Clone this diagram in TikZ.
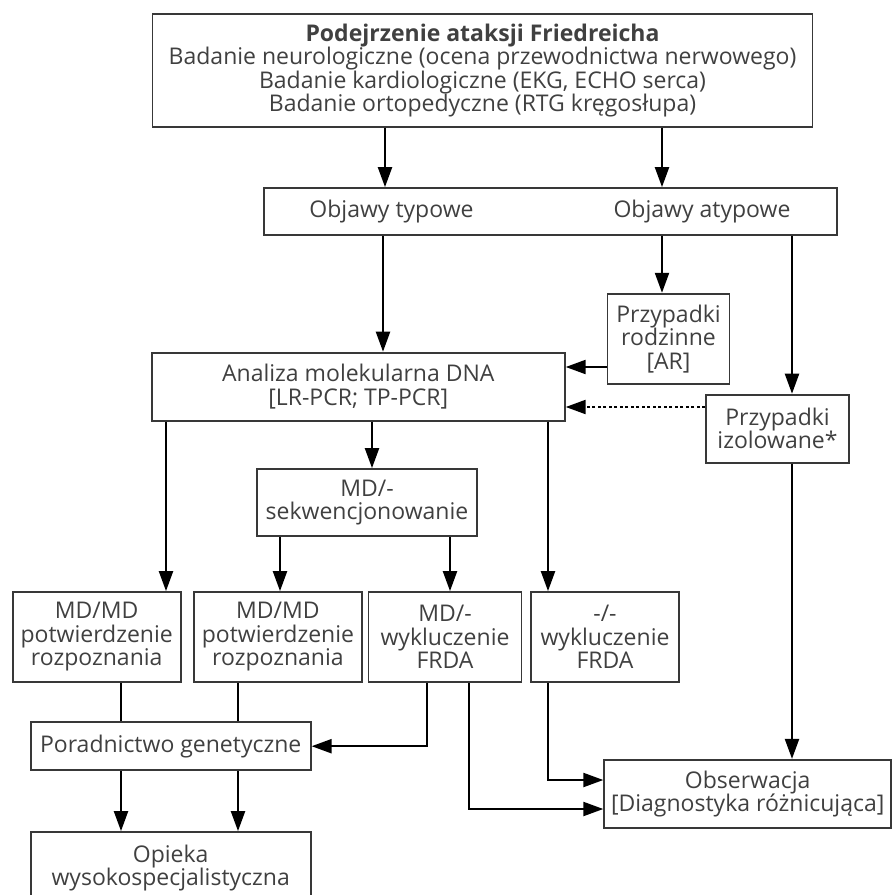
\documentclass[tikz,border=0pt]{standalone}
\usepackage{fontspec}
\setmainfont{Open Sans}
\usetikzlibrary{arrows.meta}

\tikzset{
  box/.style={draw=black!78, line width=1.8pt, align=center, inner sep=0pt, text=black!75},
  lbl/.style={inner sep=0pt, text=black!75},
}

\begin{document}
\begin{tikzpicture}[x=1pt,y=-1pt,>={Triangle[length=20pt,width=14pt]},line width=2.2pt,font=\fontsize{23}{23.5}\selectfont]
		\useasboundingbox (0,0) rectangle (892,895);
		% boxes
		\node[box,minimum width=660,minimum height=113] (susp) at (482.5,70.3) {\textbf{Podejrzenie ataksji Friedreicha}\\Badanie neurologiczne (ocena przewodnictwa nerwowego)\\Badanie kardiologiczne (EKG, ECHO serca)\\Badanie ortopedyczne (RTG kręgosłupa)};
		\node[box,minimum width=573,minimum height=47] (sympt) at (550.3,211.5) {};
		\node[lbl] (typ) at (391.5,211.5) {Objawy typowe};
		\node[lbl] (atyp) at (702,211.5) {Objawy atypowe};
		\node[box,minimum width=413,minimum height=68] (dna) at (358.3,386.6) {Analiza molekularna DNA\\{[LR-PCR; TP-PCR]}};
		\node[box,minimum width=122,minimum height=90] (fam) at (668.5,338.7) {Przypadki\\rodzinne\\{[AR]}};
		\node[box,minimum width=143,minimum height=68] (iso) at (777.5,428.6) {Przypadki\\izolowane*};
		\node[box,minimum width=220,minimum height=67] (seq) at (367,502.5) {MD/-\\sekwencjonowanie};
		\node[box,minimum width=168,minimum height=90] (resA) at (96.7,637) {MD/MD\\potwierdzenie\\rozpoznania};
		\node[box,minimum width=168,minimum height=90] (resB) at (277.9,637) {MD/MD\\potwierdzenie\\rozpoznania};
		\node[box,minimum width=153,minimum height=90] (resC) at (445,637) {MD/-\\wykluczenie\\FRDA};
		\node[box,minimum width=148,minimum height=90] (resD) at (605,637) {-/-\\wykluczenie\\FRDA};
		\node[box,minimum width=280,minimum height=48] (gen) at (170.7,746.2) {Poradnictwo genetyczne};
		\node[box,minimum width=287,minimum height=68] (obs) at (747.7,793.8) {Obserwacja\\{[Diagnostyka różnicująca]}};
		\node[box,minimum width=280,minimum height=72] (care) at (170.7,868) {Opieka\\wysokospecjalistyczna};
		% columns and rows of the connectors
		\coordinate (xa) at (385,0);
		\coordinate (xb) at (662,0);
		\coordinate (xc) at (383,0);
		\coordinate (xd) at (792,0);
		\coordinate (xe) at (166,0);
		\coordinate (xf) at (372,0);
		\coordinate (xg) at (548,0);
		\coordinate (xh) at (280,0);
		\coordinate (xi) at (450,0);
		\coordinate (xj) at (121,0);
		\coordinate (xk) at (238,0);
		\coordinate (xl) at (427,0);
		\coordinate (xm) at (469,0);
		\coordinate (ya) at (0,367);
		\coordinate (yb) at (0,407);
		\coordinate (yc) at (0,780);
		\coordinate (yd) at (0,809);
		% connectors
		\draw[->] (susp.south -| xa) -- (sympt.north -| xa);
		\draw[->] (susp.south -| xb) -- (sympt.north -| xb);
		\draw[->] (sympt.south -| xc) -- (dna.north -| xc);
		\draw[->] (sympt.south -| xb) -- (fam.north -| xb);
		\draw[->] (sympt.south -| xd) -- (iso.north -| xd);
		\draw[->] (fam.west |- ya) -- (dna.east |- ya);
		\draw[->,dash pattern=on 3pt off 2.5pt] (iso.west |- yb) -- (dna.east |- yb);
		\draw[->] (dna.south -| xe) -- (resA.north -| xe);
		\draw[->] (dna.south -| xf) -- (seq.north -| xf);
		\draw[->] (dna.south -| xg) -- (resD.north -| xg);
		\draw[->] (seq.south -| xh) -- (resB.north -| xh);
		\draw[->] (seq.south -| xi) -- (resC.north -| xi);
		\draw (resA.south -| xj) -- (gen.north -| xj);
		\draw (resB.south -| xk) -- (gen.north -| xk);
		\draw[->] (resC.south -| xl) |- (gen.east);
		\draw[->] (resC.south -| xm) |- (obs.west |- yd);
		\draw[->] (resD.south -| xg) |- (obs.west |- yc);
		\draw[->] (iso.south -| xd) -- (obs.north -| xd);
		\draw[->] (gen.south -| xj) -- (care.north -| xj);
		\draw[->] (gen.south -| xk) -- (care.north -| xk);
\end{tikzpicture}
\end{document}
